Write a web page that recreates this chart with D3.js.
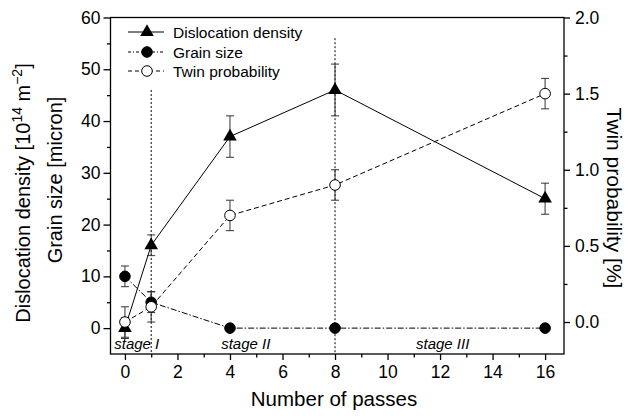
<!DOCTYPE html>
<html>
<head>
<meta charset="utf-8">
<script src="https://cdn.jsdelivr.net/npm/d3@7"></script>
<style>
  html, body { margin: 0; padding: 0; background: #fff; }
  svg { display: block; font-family: "Liberation Sans", Arial, sans-serif; }
</style>
</head>
<body>
<svg id="chart" width="632" height="416"></svg>
<script>
// ---- data ----
const passes = [0, 1, 4, 8, 16];
const dislocationDensity = [0, 16, 37, 46, 25];
const dislocationErr = [2, 2, 4, 5, 3];
const grainSize = [10, 5, 0, 0, 0];
const grainErr = [2, 2, 0, 0, 0];
const twinProbability = [0.0, 0.1, 0.7, 0.9, 1.5];
const twinErr = [0.1, 0.1, 0.1, 0.1, 0.1];
const stageBoundaries = [1, 8];
const stageBoundaryTops = [46, 56];
const stageLabels = ["stage I", "stage II", "stage III"];
const stageLabelX = [0.45, 4.6, 12.1];
const xTicks = [0, 2, 4, 6, 8, 10, 12, 14, 16];
const xMinorTicks = [1, 3, 5, 7, 9, 11, 13, 15];
const yLeftTicks = [0, 10, 20, 30, 40, 50, 60];
const yLeftMinor = [5, 15, 25, 35, 45, 55];
const yRightTicks = [0, 0.5, 1.0, 1.5, 2.0];
const yRightMinor = [0.25, 0.75, 1.25, 1.75];
const legendLabels = ["Dislocation density", "Grain size", "Twin probability"];

// ---- layout ----
const svg = d3.select("#chart");
const L = 110.5, R = 564, T = 17.5, B = 354;
const x = d3.scaleLinear().domain([-0.55, 16.72]).range([L, R]);
const yL = d3.scaleLinear().domain([-5, 60]).range([B, T]);
const yR = d3.scaleLinear().domain([-0.21, 2.0]).range([B, T]);

const axisStroke = 1.3;

// frame
svg.append("rect").attr("x", L).attr("y", T).attr("width", R - L).attr("height", B - T)
  .attr("fill", "none").attr("stroke", "#000").attr("stroke-width", axisStroke);

function styleAxis(g) {
  g.select(".domain").remove();
  g.selectAll(".tick line").attr("stroke", "#000").attr("stroke-width", axisStroke);
  g.selectAll(".tick text").attr("fill", "#000").style("font-size", "17.5px")
    .style("font-family", '"Liberation Sans", Arial, sans-serif');
}

// bottom axis
svg.append("g").attr("transform", `translate(0,${B})`)
  .call(d3.axisBottom(x).tickValues(xTicks).tickSize(6).tickPadding(6).tickFormat(d3.format("d")))
  .call(styleAxis);
svg.append("g").attr("transform", `translate(0,${B})`)
  .call(d3.axisBottom(x).tickValues(xMinorTicks).tickSize(3.5).tickFormat(""))
  .call(styleAxis);

// left axis
svg.append("g").attr("transform", `translate(${L},0)`)
  .call(d3.axisLeft(yL).tickValues(yLeftTicks).tickSize(7).tickPadding(3).tickFormat(d3.format("d")))
  .call(styleAxis);
svg.append("g").attr("transform", `translate(${L},0)`)
  .call(d3.axisLeft(yL).tickValues(yLeftMinor).tickSize(3.5).tickFormat(""))
  .call(styleAxis);

// right axis
svg.append("g").attr("transform", `translate(${R},0)`)
  .call(d3.axisRight(yR).tickValues(yRightTicks).tickSize(6).tickPadding(5).tickFormat(d3.format(".1f")))
  .call(styleAxis);
svg.append("g").attr("transform", `translate(${R},0)`)
  .call(d3.axisRight(yR).tickValues(yRightMinor).tickSize(3.5).tickFormat(""))
  .call(styleAxis);

// axis titles
svg.append("text").attr("x", 334).attr("y", 406).attr("text-anchor", "middle")
  .style("font-size", "20.5px").text("Number of passes");

const t1 = svg.append("text").attr("transform", `translate(30,193) rotate(-90)`)
  .attr("text-anchor", "middle").style("font-size", "20px");
t1.append("tspan").text("Dislocation density [10");
t1.append("tspan").attr("dy", -8).style("font-size", "14px").text("14");
t1.append("tspan").attr("dy", 8).text(" m");
t1.append("tspan").attr("dy", -8).style("font-size", "14px").text("\u22122");
t1.append("tspan").attr("dy", 8).text("]");

svg.append("text").attr("transform", `translate(62,180) rotate(-90)`)
  .attr("text-anchor", "middle").style("font-size", "20px").text("Grain size [micron]");

svg.append("text").attr("transform", `translate(607,198) rotate(90)`)
  .attr("text-anchor", "middle").style("font-size", "21px").text("Twin probability [%]");

// stage boundaries
stageBoundaries.forEach((s, i) => {
  svg.append("line").attr("x1", x(s)).attr("x2", x(s))
    .attr("y1", yL(stageBoundaryTops[i])).attr("y2", B)
    .attr("stroke", "#000").attr("stroke-width", 1).attr("stroke-dasharray", "2,2");
});

// stage labels
stageLabels.forEach((s, i) => {
  svg.append("text").attr("x", x(stageLabelX[i])).attr("y", 349).attr("text-anchor", "middle")
    .style("font-size", "15px").style("font-style", "italic").text(s);
});

// error bars
function errorBars(vals, errs, yScale) {
  const g = svg.append("g");
  passes.forEach((p, i) => {
    if (errs[i] <= 0) return;
    const cx = x(p), y1 = yScale(vals[i] - errs[i]), y2 = yScale(vals[i] + errs[i]);
    g.append("line").attr("x1", cx).attr("x2", cx).attr("y1", y1).attr("y2", y2)
      .attr("stroke", "#333").attr("stroke-width", 1);
    [y1, y2].forEach(yy => g.append("line").attr("x1", cx - 4).attr("x2", cx + 4)
      .attr("y1", yy).attr("y2", yy).attr("stroke", "#333").attr("stroke-width", 1));
  });
}
errorBars(dislocationDensity, dislocationErr, yL);
errorBars(grainSize, grainErr, yL);
errorBars(twinProbability, twinErr, yR);

// lines
function seriesLine(vals, yScale, dash) {
  const line = d3.line().x((d, i) => x(passes[i])).y(d => yScale(d));
  svg.append("path").datum(vals).attr("d", line).attr("fill", "none")
    .attr("stroke", "#000").attr("stroke-width", 1).attr("stroke-dasharray", dash);
}
seriesLine(dislocationDensity, yL, null);
seriesLine(grainSize, yL, "6,2,1.5,2");
seriesLine(twinProbability, yR, "5,3");

// markers
const tri = d3.symbol().type(d3.symbolTriangle).size(80);
function triangle(cx, cy) {
  svg.append("path").attr("d", tri()).attr("transform", `translate(${cx},${cy})`).attr("fill", "#000");
}
function dot(cx, cy, filled) {
  svg.append("circle").attr("cx", cx).attr("cy", cy).attr("r", 5.3)
    .attr("fill", filled ? "#000" : "#fff").attr("stroke", "#000").attr("stroke-width", 1);
}
passes.forEach((p, i) => triangle(x(p), yL(dislocationDensity[i])));
passes.forEach((p, i) => dot(x(p), yL(grainSize[i]), true));
passes.forEach((p, i) => dot(x(p), yR(twinProbability[i]), false));

// legend
const legY = [32, 52, 71];
const legDash = [null, "3,2,1,2", "4,3"];
legendLabels.forEach((lab, i) => {
  svg.append("line").attr("x1", 128).attr("x2", 164).attr("y1", legY[i]).attr("y2", legY[i])
    .attr("stroke", "#000").attr("stroke-width", 1).attr("stroke-dasharray", legDash[i]);
  if (i === 0) triangle(147, legY[i]);
  else dot(147, legY[i], i === 1);
  svg.append("text").attr("x", 173).attr("y", legY[i] + 5.5).style("font-size", "15.5px").text(lab);
});
</script>
</body>
</html>
